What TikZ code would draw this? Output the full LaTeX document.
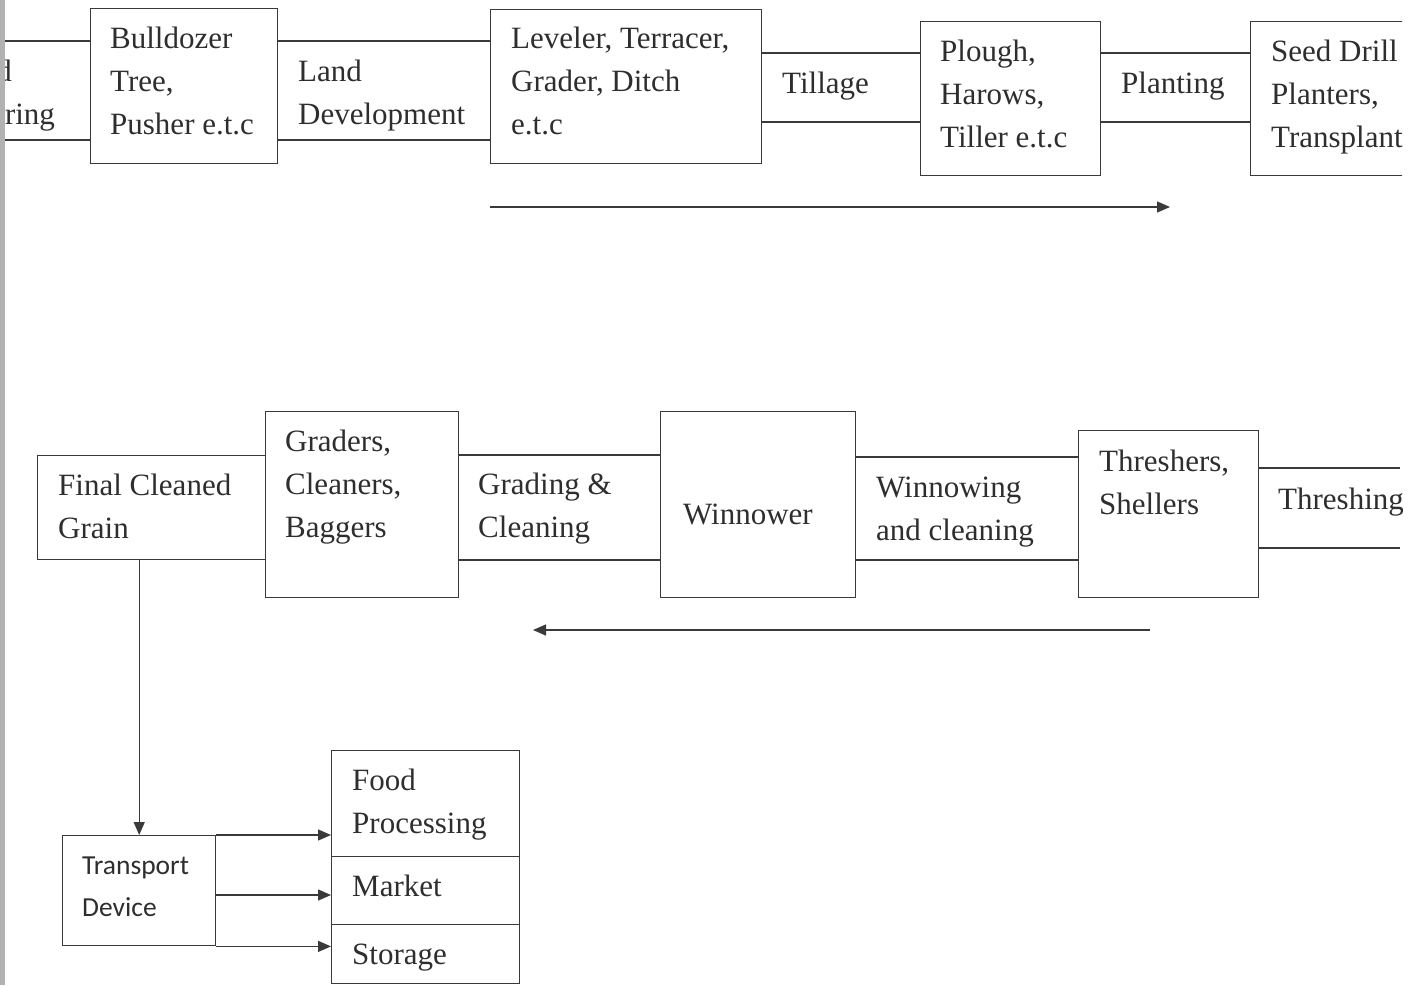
\documentclass[tikz,border=0pt]{standalone}
\usepackage{fontspec}
\setmainfont{Liberation Serif}
\newfontfamily\calib{Carlito}
\usetikzlibrary{arrows.meta}
\definecolor{lc}{HTML}{3A3A3A}
\definecolor{tc}{HTML}{2E2E2E}
\begin{document}
\begin{tikzpicture}[x=1pt,y=-1pt,
  box/.style={draw=lc, line width=1.4pt, rectangle, inner sep=0pt, anchor=north west},
  ln/.style={draw=lc, line width=1.4pt},
  arr/.style={ln, -{Triangle[length=13pt,width=11pt]}},
  txt/.style={text=tc, font=\fontsize{31}{43}\selectfont, align=left, inner sep=0pt, anchor=west},
  stxt/.style={text=tc, font=\calib\fontsize{27.5}{42}\selectfont, align=left, inner sep=0pt, anchor=west},
  ]
\useasboundingbox (0,0) rectangle (1420,985);
\fill[gray!60] (0,0) rectangle (5,985);
\begin{scope}
\clip (5,0) rectangle (1402,985);
% top row boxes
\node[box, minimum width=187pt, minimum height=155pt] (bull) at (90,8) {};
\node[box, minimum width=271pt, minimum height=154pt] (lev) at (490,9) {};
\node[box, minimum width=180pt, minimum height=154pt] (plough) at (920,21) {};
\node[box, minimum width=200pt, minimum height=154pt] (seed) at (1250,21) {};
% middle row boxes
\node[box, minimum width=228pt, minimum height=104pt] (final) at (37,455) {};
\node[box, minimum width=193pt, minimum height=186pt] (grad) at (265,411) {};
\node[box, minimum width=195pt, minimum height=186pt] (winn) at (660,411) {};
\node[box, minimum width=180pt, minimum height=167pt] (thr) at (1078,430) {};
% bottom boxes
\node[box, minimum width=153pt, minimum height=110pt] (trans) at (62,835) {};
\node[box, minimum width=188pt, minimum height=106pt] (food) at (331,750) {};
\node[box, minimum width=188pt, minimum height=68pt] (market) at (331,856) {};
\node[box, minimum width=188pt, minimum height=59pt] (stor) at (331,924) {};

% texts
\node[txt] (tclear) at (-52,96) {Land\\Clearing};
\node[txt] (tbull) at (110,81) {Bulldozer\\Tree,\\Pusher e.t.c};
\node[txt] (tland) at (298,96) {Land\\Development};
\node[txt] (tlev) at (511,81) {Leveler, Terracer,\\Grader, Ditch\\e.t.c};
\node[txt] (ttill) at (782,86) {Tillage};
\node[txt] (tplough) at (940,94) {Plough,\\Harows,\\Tiller e.t.c};
\node[txt] (tplant) at (1121,86) {Planting};
\node[txt] (tseed) at (1271,97) {Seed Drill\\Planters,\\Transplanter};
\node[txt] (tfinal) at (58,506) {Final Cleaned\\Grain};
\node[txt] (tgrad) at (285,487) {Graders,\\Cleaners,\\Baggers};
\node[txt] (tgc) at (478,509) {Grading \&\\Cleaning};
\node[txt] (twinn) at (683,514) {Winnower};
\node[txt] (twc) at (876,512) {Winnowing\\and cleaning};
\node[txt] (tthr) at (1099,482) {Threshers,\\Shellers};
\node[txt] (tthg) at (1278,502) {Threshing};
\node[stxt] (ttrans) at (82,887) {Transport\\Device};
\node[txt] (tfood) at (352,805) {Food\\Processing};
\node[txt] (tmark) at (352,886) {Market};
\node[txt] (tstor) at (352,958) {Storage};

% connector pairs
\coordinate (l1) at (0,41);
\coordinate (l2) at (0,140);
\draw[ln] (l1) -- (bull.west |- l1);
\draw[ln] (l2) -- (bull.west |- l2);
\draw[ln] (bull.east |- 0,41) -- (lev.west |- 0,41);
\draw[ln] (bull.east |- 0,140) -- (lev.west |- 0,140);
\draw[ln] (lev.east |- 0,53) -- (plough.west |- 0,53);
\draw[ln] (lev.east |- 0,122) -- (plough.west |- 0,122);
\draw[ln] (plough.east |- 0,53) -- (seed.west |- 0,53);
\draw[ln] (plough.east |- 0,122) -- (seed.west |- 0,122);
\coordinate (ta) at (1170,207);
\draw[arr] (lev.west |- ta) -- (ta);

\draw[ln] (grad.east |- 0,455) -- (winn.west |- 0,455);
\draw[ln] (grad.east |- 0,560) -- (winn.west |- 0,560);
\draw[ln] (winn.east |- 0,457) -- (thr.west |- 0,457);
\draw[ln] (winn.east |- 0,560) -- (thr.west |- 0,560);
\coordinate (r1) at (1400,468);
\coordinate (r2) at (1400,548);
\draw[ln] (thr.east |- r1) -- (r1);
\draw[ln] (thr.east |- r2) -- (r2);
\coordinate (ma) at (1150,630);
\coordinate (mb) at (533,630);
\draw[arr] (ma) -- (mb);

\draw[arr] (final.south -| trans.north) -- (trans.north);
\draw[arr] (trans.north east) -- (food.west |- trans.north east);
\draw[arr] (trans.east |- 0,895) -- (market.west |- 0,895);
\draw[arr] (trans.south east) -- (stor.west |- trans.south east);
\end{scope}
\end{tikzpicture}
\end{document}
